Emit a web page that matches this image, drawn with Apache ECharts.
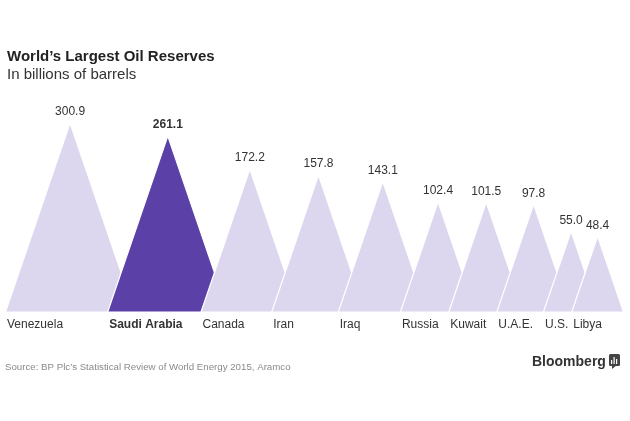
<!DOCTYPE html>
<html><head><meta charset="utf-8">
<script src="https://cdn.jsdelivr.net/npm/echarts@6/dist/echarts.min.js"></script>
<style>html,body{margin:0;padding:0;background:#fff}#c{width:630px;height:421px}</style>
</head><body><div id="c"></div>
<script>
const countries = ['Venezuela','Saudi Arabia','Canada','Iran','Iraq','Russia','Kuwait','U.A.E.','U.S.','Libya'];
const reserves = [300.9, 261.1, 172.2, 157.8, 143.1, 102.4, 101.5, 97.8, 55.0, 48.4];
const valueLabels = ['300.9','261.1','172.2','157.8','143.1','102.4','101.5','97.8','55.0','48.4'];
const highlight = 'Saudi Arabia';

// Triangles are similar shapes whose area is proportional to the value:
// height and base width scale with sqrt(value).
const OVERLAP = 3.62; // base overlap between neighbours, in axis units
const WIDTH_PER_UNIT = 1.0;
const layout = [];
let cursor = 0;
reserves.forEach((v, i) => {
  const s = Math.sqrt(v);
  const w = s * WIDTH_PER_UNIT;
  layout.push([cursor, cursor + w, s, i]);
  cursor += w - OVERLAP;
});
const xMax = cursor + OVERLAP;
const FONT = '"Liberation Sans", Arial, Helvetica, sans-serif';

const chart = echarts.init(document.getElementById('c'), null, {renderer: 'canvas'});
chart.setOption({
  animation: false,
  backgroundColor: '#ffffff',
  title: [
    {text: 'World\u2019s Largest Oil Reserves', left: 2, top: 44,
     textStyle: {fontFamily: FONT, fontSize: 15, fontWeight: 'bold', color: '#222'}},
    {text: 'In billions of barrels', left: 2, top: 62,
     textStyle: {fontFamily: FONT, fontSize: 15, fontWeight: 'normal', color: '#333'}},
    {text: 'Source: BP Plc\u2019s Statistical Review of World Energy 2015, Aramco', left: 0, top: 357,
     textStyle: {fontFamily: FONT, fontSize: 9.7, fontWeight: 'normal', color: '#8a8a8a'}},
    {text: 'Bloomberg', left: 527, top: 350,
     textStyle: {fontFamily: FONT, fontSize: 14, fontWeight: 'bold', color: '#333'}}
  ],
  graphic: [
    {type: 'rect', shape: {x: 609, y: 354, width: 11, height: 12, r: 1.5}, style: {fill: '#444'}},
    {type: 'polygon', shape: {points: [[612, 365], [617, 365], [612, 369]]}, style: {fill: '#444'}},
    {type: 'rect', shape: {x: 611, y: 360, width: 1.2, height: 4}, style: {fill: '#fff'}},
    {type: 'rect', shape: {x: 613.5, y: 357, width: 1.2, height: 7}, style: {fill: '#fff'}},
    {type: 'rect', shape: {x: 616, y: 359, width: 1.2, height: 5}, style: {fill: '#fff'}}
  ],
  grid: {left: 5.5, right: 6.5, top: 123, bottom: 109, containLabel: false},
  xAxis: {type: 'value', min: 0, max: xMax, show: false},
  yAxis: {type: 'value', min: 0, max: Math.sqrt(Math.max(...reserves)), show: false},
  series: [{
    type: 'custom',
    clip: false,
    data: layout,
    renderItem: function (params, api) {
      const x0 = api.value(0), x1 = api.value(1), h = api.value(2), i = api.value(3);
      const pL = api.coord([x0, 0]);
      const pR = api.coord([x1, 0]);
      const pT = api.coord([(x0 + x1) / 2, h]);
      const isHi = countries[i] === highlight;
      return {
        type: 'group',
        children: [
          {type: 'polygon', shape: {points: [pL, pT, pR]},
           style: {fill: isHi ? '#5b41a7' : '#dcd7ee', stroke: '#ffffff', lineWidth: 1.2}},
          {type: 'text', x: pT[0], y: pT[1] - 5,
           style: {text: valueLabels[i], align: 'center', verticalAlign: 'bottom',
                   font: (isHi ? 'bold ' : '') + '12px ' + FONT, fill: '#333'}},
          {type: 'text', x: pL[0] + 1.5, y: pL[1] + 12.5,
           style: {text: countries[i], align: 'left', verticalAlign: 'middle',
                   font: (isHi ? 'bold ' : '') + '12px ' + FONT, fill: '#333'}}
        ]
      };
    }
  }]
});
</script></body></html>
